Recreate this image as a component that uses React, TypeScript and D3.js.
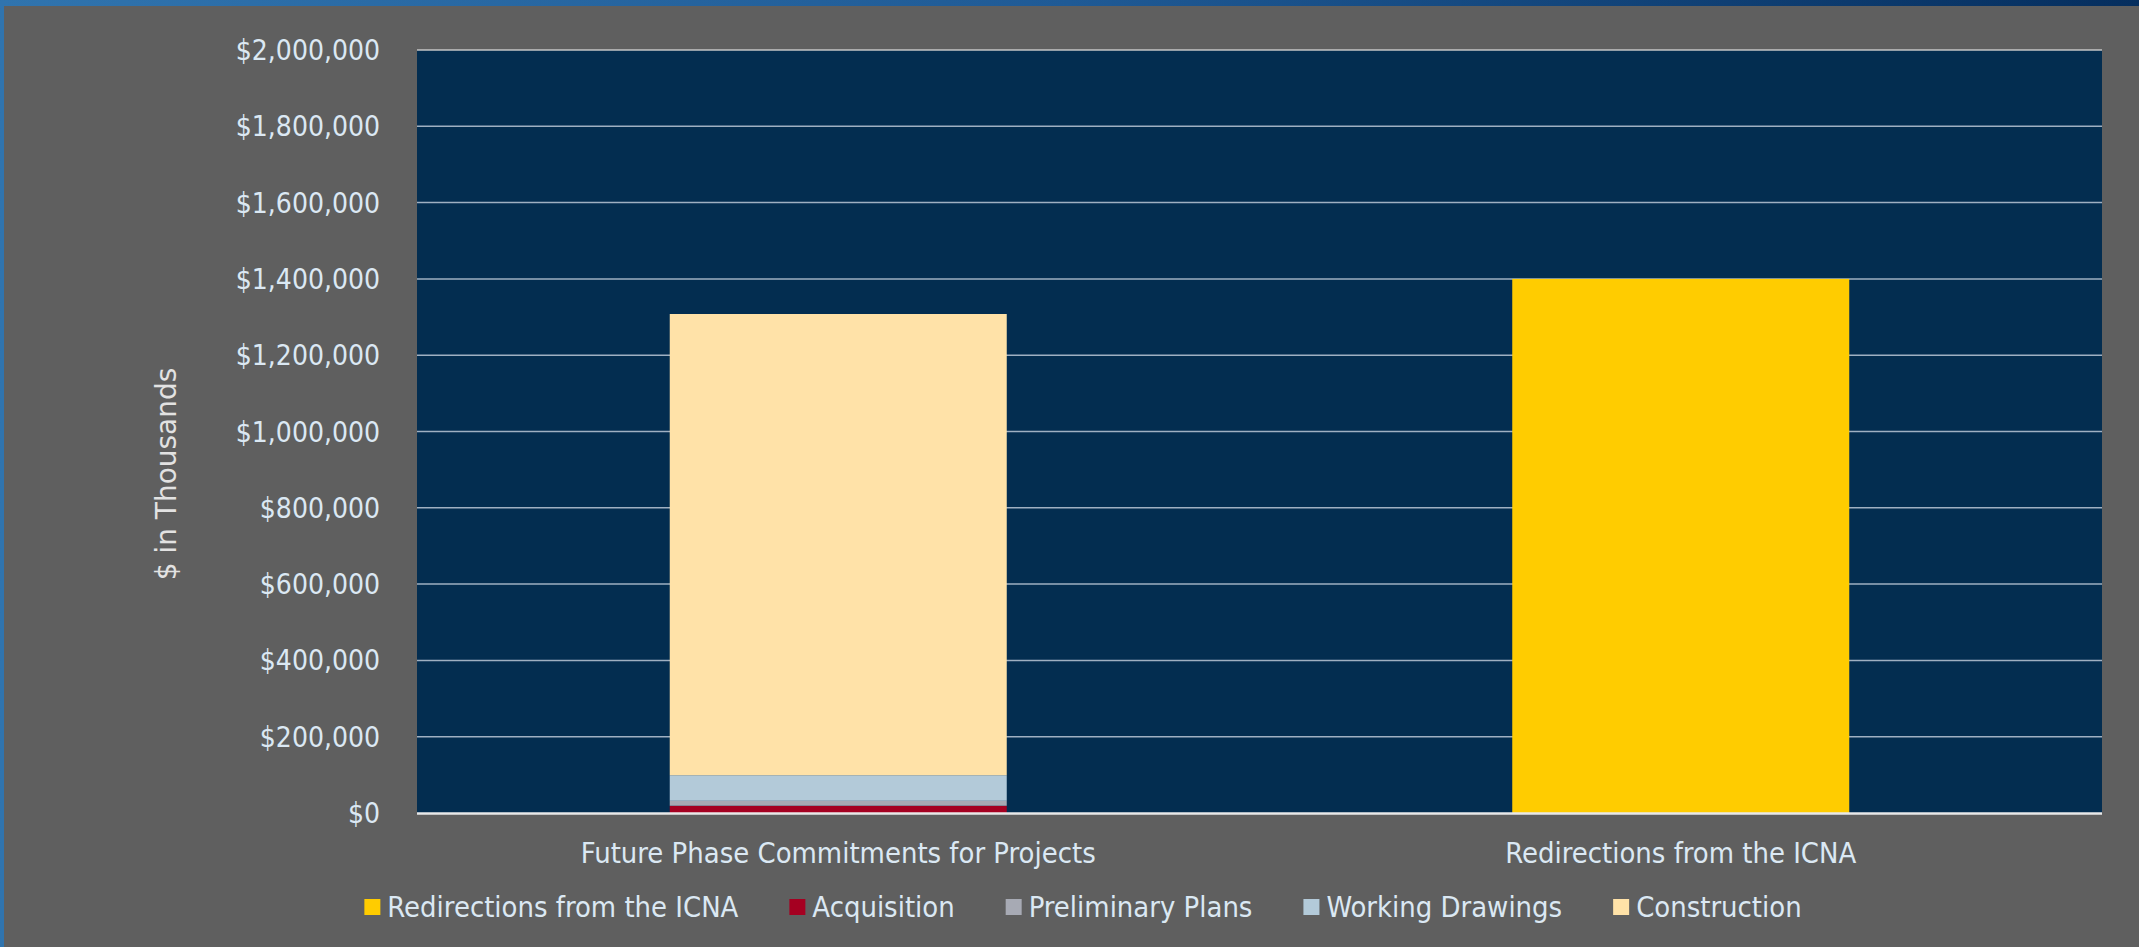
import React from "react";
import * as d3 from "d3";

const categories = ["Future Phase Commitments for Projects", "Redirections from the ICNA"];
const seriesNames = ["Redirections from the ICNA", "Acquisition", "Preliminary Plans", "Working Drawings", "Construction"];
const redirections = [0, 1400000];
const acquisition = [19000, 0];
const preliminaryPlans = [13000, 0];
const workingDrawings = [67000, 0];
const construction = [1209000, 0];
const yTicks = [0, 200000, 400000, 600000, 800000, 1000000, 1200000, 1400000, 1600000, 1800000, 2000000];
const seriesColors = ["#ffcc00", "#a50021", "#a7aab4", "#b3cad9", "#ffe2a8"];

const W = 2139;
const H = 947;
const FONT = "'DejaVu Sans Condensed', 'DejaVu Sans', sans-serif";
const FS = 28;
const FS2 = 28.9;
const TEXT = "#dbe8f3";

function measure(text: string, size: number): number {
  const c = document.createElement("canvas").getContext("2d");
  if (!c) return text.length * size * 0.5;
  c.font = `${size}px 'DejaVu Sans Condensed'`;
  return c.measureText(text).width;
}

export default function App() {
  const plot = { left: 417, right: 2102, top: 50, bottom: 813 };
  const x = d3.scaleBand<string>().domain(categories).range([plot.left, plot.right]).paddingInner(0.6).paddingOuter(0.3);
  const y = d3.scaleLinear().domain([0, 2000000]).range([plot.bottom, plot.top]);

  const seriesValues = [redirections, acquisition, preliminaryPlans, workingDrawings, construction];
  const rows = categories.map((c, i) => {
    const r: any = { cat: c };
    seriesNames.forEach((s, j) => (r[s] = seriesValues[j][i]));
    return r;
  });
  const stacked = d3.stack<any>().keys(seriesNames)(rows);
  const fmt = (v: number) => "$" + d3.format(",")(v);

  // legend layout
  const sq = 16;
  const sqGap = 7;
  const itemGap = 51;
  const widths = seriesNames.map((s) => measure(s, FS2));
  const total = widths.reduce((a, w) => a + sq + sqGap + w, 0) + itemGap * (seriesNames.length - 1);
  let lx = 1083 - total / 2;
  const legendItems = seriesNames.map((s, i) => {
    const item = { name: s, x: lx, color: seriesColors[i] };
    lx += sq + sqGap + widths[i] + itemGap;
    return item;
  });

  return (
    <svg width={W} height={H} style={{ position: "fixed", left: 0, top: 0, display: "block" }} fontFamily={FONT}>
      <defs>
        <linearGradient id="frame" x1="0" x2="1" y1="0" y2="0">
          <stop offset="0" stopColor="#3074ae" />
          <stop offset="0.5" stopColor="#1f5a95" />
          <stop offset="1" stopColor="#052e5e" />
        </linearGradient>
      </defs>
      <rect x={0} y={0} width={W} height={H} fill="url(#frame)" />
      <rect x={4} y={6} width={W - 4} height={H - 6} fill="#5f5f5f" />
      <rect x={plot.left} y={plot.top} width={plot.right - plot.left} height={plot.bottom - plot.top} fill="#032d50" />
      {yTicks.filter((t) => t > 0).map((t) => (
        <line key={t} x1={plot.left} x2={plot.right} y1={y(t)} y2={y(t)} stroke={t === 2000000 ? "#c4c4c4" : "#9fb0c2"} strokeWidth={1.5} />
      ))}
      {stacked.map((s, si) =>
        s.map((d, ci) =>
          d[1] - d[0] > 0 ? (
            <rect
              key={`${si}-${ci}`}
              x={x(categories[ci])}
              width={x.bandwidth()}
              y={y(d[1])}
              height={y(d[0]) - y(d[1])}
              fill={seriesColors[si]}
            />
          ) : null
        )
      )}
      <line x1={plot.left} x2={plot.right} y1={plot.bottom + 0.5} y2={plot.bottom + 0.5} stroke="#e8e8e8" strokeWidth={2.5} />
      {yTicks.map((t) => (
        <text key={t} x={380} y={y(t)} dy="0.36em" textAnchor="end" fontSize={FS} fill={TEXT}>
          {fmt(t)}
        </text>
      ))}
      <text transform={`translate(176,474) rotate(-90)`} textAnchor="middle" fontSize={FS} fill="#e2e2e2" fontFamily="'DejaVu Sans', sans-serif">
        $ in Thousands
      </text>
      {categories.map((c) => (
        <text key={c} x={(x(c) as number) + x.bandwidth() / 2} y={863} textAnchor="middle" fontSize={FS2} fill={TEXT}>
          {c}
        </text>
      ))}
      {legendItems.map((it) => (
        <g key={it.name}>
          <rect x={it.x} y={899} width={sq} height={sq} fill={it.color} />
          <text x={it.x + sq + sqGap} y={917} fontSize={FS2} fill={TEXT}>
            {it.name}
          </text>
        </g>
      ))}
    </svg>
  );
}
